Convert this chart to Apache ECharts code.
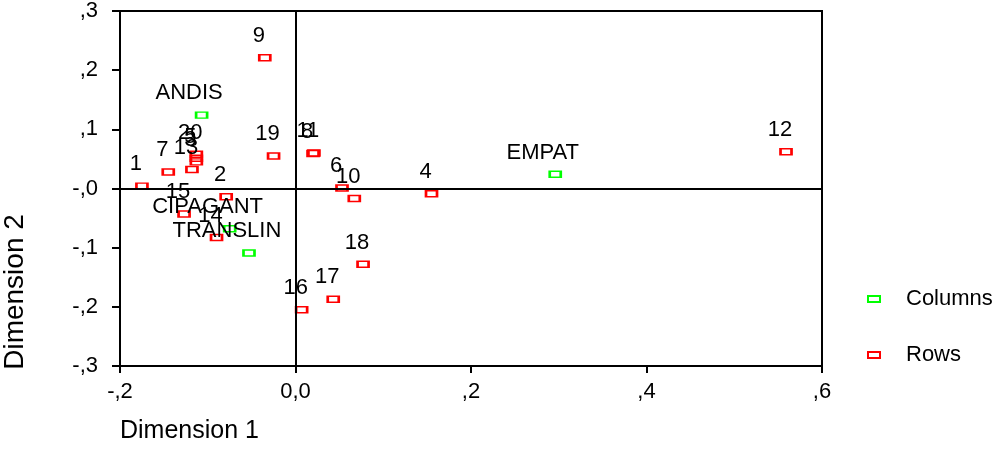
<!DOCTYPE html>
<html>
<head>
<meta charset="utf-8">
<script src="https://cdn.jsdelivr.net/npm/echarts@6/dist/echarts.min.js"></script>
<style>
  html, body { margin: 0; padding: 0; background: #fff; }
  #chart { width: 992px; height: 476px; }
</style>
</head>
<body>
<div id="chart"></div>
<script>
// ---- data ----
var colNames = ['ANDIS', 'EMPAT', 'CIPAGANT', 'TRANSLIN'];
var colDim1  = [-0.107, 0.296, -0.075, -0.053];
var colDim2  = [0.124, 0.024, -0.068, -0.109];

var rowNames = ['1','2','3','4','5','6','7','8','9','10','11','12','13','14','15','16','17','18','19','20'];
var rowDim1  = [-0.175, -0.079, -0.113, 0.155, -0.113, 0.053, -0.145, 0.020, -0.035, 0.067,
                 0.021, 0.559, -0.118, -0.090, -0.127, 0.007, 0.043, 0.077, -0.025, -0.113];
var rowDim2  = [0.004, -0.014, 0.045, -0.009, 0.051, 0.001, 0.028, 0.059, 0.221, -0.017,
                 0.060, 0.062, 0.032, -0.083, -0.043, -0.205, -0.187, -0.128, 0.055, 0.058];

var xTickValues = [-0.2, 0, 0.2, 0.4, 0.6];
var xTickLabels = ['-,2', '0,0', ',2', ',4', ',6'];
var yTickValues = [-0.3, -0.2, -0.1, 0, 0.1, 0.2, 0.3];
var yTickLabels = ['-,3', '-,2', '-,1', '-,0', ',1', ',2', ',3'];

var FONT = 'Liberation Sans, Arial, Helvetica, sans-serif';

function tickLabel(values, labels, v) {
  var best = 0, d = Infinity;
  for (var i = 0; i < values.length; i++) {
    var dd = Math.abs(values[i] - v);
    if (dd < d) { d = dd; best = i; }
  }
  return labels[best];
}

function buildPoints(names, xs, ys) {
  return names.map(function (n, i) {
    return { name: n, value: [xs[i], ys[i]] };
  });
}

var chart = echarts.init(document.getElementById('chart'), null, { renderer: 'canvas' });

var labelBase = {
  show: true,
  position: 'top',
  distance: 7,
  color: '#000',
  fontFamily: FONT,
  fontSize: 22,
  formatter: '{b}'
};

chart.setOption({
  animation: false,
  backgroundColor: '#fff',
  grid: {
    left: 120, right: 170, top: 10, bottom: 110,
    show: true, borderColor: '#000', borderWidth: 2, backgroundColor: 'transparent'
  },
  xAxis: {
    type: 'value', min: -0.2, max: 0.6, interval: 0.2,
    axisLine: { show: true, onZero: false, lineStyle: { color: '#000', width: 2 } },
    axisTick: { show: true, length: 7, lineStyle: { color: '#000', width: 2 } },
    splitLine: { show: false },
    axisLabel: {
      margin: 15, color: '#000', fontFamily: FONT, fontSize: 22,
      formatter: function (v) { return tickLabel(xTickValues, xTickLabels, v); }
    }
  },
  yAxis: {
    type: 'value', min: -0.3, max: 0.3, interval: 0.1,
    axisLine: { show: true, onZero: false, lineStyle: { color: '#000', width: 2 } },
    axisTick: { show: true, length: 8, lineStyle: { color: '#000', width: 2 } },
    splitLine: { show: false },
    axisLabel: {
      margin: 22, color: '#000', fontFamily: FONT, fontSize: 22,
      formatter: function (v) { return tickLabel(yTickValues, yTickLabels, v); }
    }
  },
  legend: {
    orient: 'vertical',
    left: 862, top: 283,
    itemWidth: 12, itemHeight: 6, itemGap: 34,
    textStyle: { color: '#000', fontFamily: FONT, fontSize: 22, padding: [0, 0, 0, 21] },
    data: [
      { name: 'Columns', icon: 'rect', itemStyle: { color: 'rgba(0,0,0,0)', borderColor: '#00ff00', borderWidth: 2 } },
      { name: 'Rows', icon: 'rect', itemStyle: { color: 'rgba(0,0,0,0)', borderColor: '#ff0000', borderWidth: 2 } }
    ]
  },
  graphic: [
    {
      type: 'text', left: 120, top: 419,
      style: { text: 'Dimension 1', fill: '#000', font: '25px ' + FONT }
    },
    {
      type: 'text', x: 15, y: 292, rotation: Math.PI / 2,
      style: { text: 'Dimension 2', fill: '#000', font: '28px ' + FONT, textAlign: 'center', textVerticalAlign: 'middle' }
    }
  ],
  series: [
    {
      name: 'Columns',
      type: 'scatter',
      symbol: 'rect',
      symbolSize: [11, 6],
      itemStyle: { color: 'rgba(0,0,0,0)', borderColor: '#00ff00', borderWidth: 2, opacity: 1 },
      label: labelBase,
      labelLayout: function (params) {
        var len = (params.text || '').length;
        return { dx: 3.5 - 3.2 * len, hideOverlap: false };
      },
      data: buildPoints(colNames, colDim1, colDim2),
      z: 3
    },
    {
      name: 'Rows',
      type: 'scatter',
      symbol: 'rect',
      symbolSize: [11, 6],
      itemStyle: { color: 'rgba(0,0,0,0)', borderColor: '#ff0000', borderWidth: 2, opacity: 1 },
      label: labelBase,
      labelLayout: function () {
        return { dx: -6, hideOverlap: false };
      },
      data: buildPoints(rowNames, rowDim1, rowDim2),
      markLine: {
        silent: true,
        symbol: 'none',
        label: { show: false },
        lineStyle: { color: '#000', width: 2, type: 'solid' },
        emphasis: { disabled: true },
        data: [{ xAxis: 0 }, { yAxis: 0 }]
      },
      z: 3
    }
  ]
});
</script>
</body>
</html>
